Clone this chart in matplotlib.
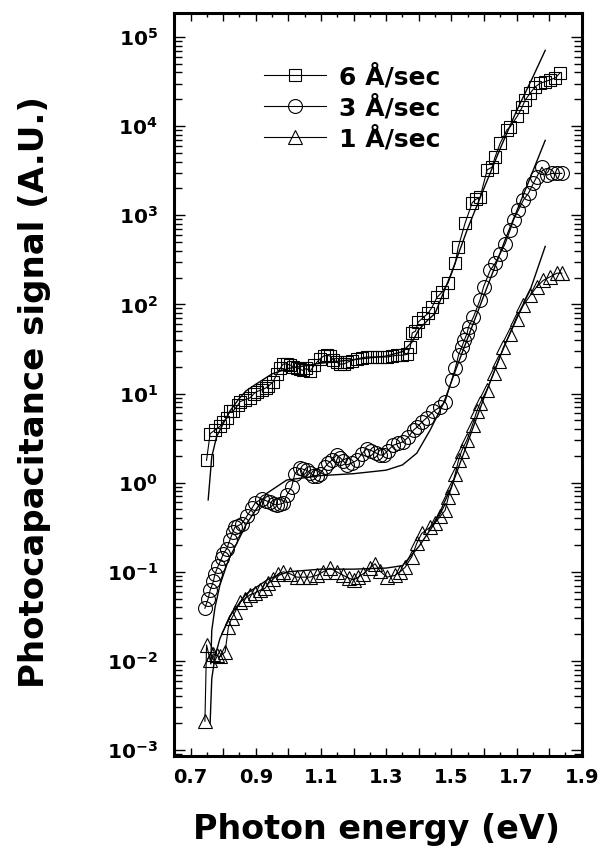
import matplotlib
matplotlib.use("Agg")
import matplotlib.pyplot as plt
import numpy as np
from matplotlib.ticker import LogLocator, NullFormatter, FixedLocator

# ---------------- data ----------------
sq_x = [0.749, 0.760, 0.775, 0.790, 0.800, 0.811, 0.820, 0.830, 0.845, 0.852, 0.867, 0.882, 0.895, 0.903,
        0.918, 0.930, 0.938, 0.953, 0.965, 0.975, 0.984, 0.995, 1.005, 1.015, 1.027, 1.037, 1.045, 1.055,
        1.067, 1.080, 1.097, 1.108, 1.119, 1.128, 1.137, 1.148, 1.159, 1.170, 1.180, 1.195, 1.211, 1.225,
        1.241, 1.256, 1.272, 1.288, 1.303, 1.318, 1.334, 1.350, 1.365, 1.374, 1.380, 1.390, 1.398, 1.413,
        1.429, 1.441, 1.456, 1.472, 1.490, 1.512, 1.521, 1.542, 1.564, 1.575, 1.588, 1.610, 1.625, 1.634,
        1.650, 1.671, 1.680, 1.702, 1.717, 1.726, 1.742, 1.757, 1.772, 1.788, 1.803, 1.819, 1.834]
sq_y = [1.78, 3.55, 3.89, 4.27, 4.79, 5.25, 6.31, 6.31, 7.41, 8.13, 8.51, 8.91, 10.0, 10.5,
        11.0, 11.5, 12.0, 13.5, 16.6, 19.1, 21.4, 21.4, 20.9, 20.0, 19.5, 18.6, 18.2, 19.1,
        17.8, 20.9, 24.5, 26.3, 26.9, 26.3, 24.0, 22.4, 21.4, 21.4, 22.4, 23.4, 24.5, 25.1,
        25.7, 25.7, 25.7, 25.7, 25.7, 26.3, 26.9, 26.9, 27.5, 33.1, 47.9, 50.1, 63.1, 70.8,
        79.4, 93.3, 120, 138, 174, 288, 437, 813, 1380, 1510, 1585, 3236, 3467, 4467,
        6457, 9120, 9772, 12880, 16220, 19500, 23440, 27540, 30200, 31620, 33110, 34670, 39810]

ci_x = [0.744, 0.754, 0.760, 0.770, 0.775, 0.785, 0.795, 0.800, 0.811, 0.821, 0.830, 0.836, 0.847, 0.857,
        0.872, 0.888, 0.898, 0.918, 0.930, 0.944, 0.955, 0.964, 0.975, 0.985, 0.995, 1.010, 1.020, 1.036,
        1.046, 1.056, 1.067, 1.077, 1.087, 1.097, 1.113, 1.123, 1.133, 1.148, 1.159, 1.169, 1.179, 1.195,
        1.210, 1.225, 1.240, 1.255, 1.270, 1.280, 1.292, 1.305, 1.322, 1.337, 1.353, 1.368, 1.384, 1.394,
        1.410, 1.425, 1.445, 1.466, 1.481, 1.501, 1.512, 1.522, 1.532, 1.540, 1.548, 1.553, 1.568, 1.588,
        1.599, 1.619, 1.634, 1.650, 1.665, 1.680, 1.691, 1.706, 1.721, 1.737, 1.752, 1.762, 1.778, 1.793,
        1.808, 1.824, 1.839]
ci_y = [0.039, 0.050, 0.062, 0.078, 0.095, 0.117, 0.141, 0.158, 0.182, 0.229, 0.28, 0.316, 0.33, 0.347,
        0.417, 0.513, 0.589, 0.661, 0.63, 0.603, 0.575, 0.562, 0.575, 0.589, 0.724, 0.891, 1.26, 1.45,
        1.41, 1.38, 1.29, 1.20, 1.20, 1.26, 1.51, 1.66, 1.78, 2.04, 1.91, 1.74, 1.58, 1.66,
        1.78, 2.09, 2.40, 2.29, 2.14, 2.04, 2.04, 2.29, 2.63, 2.75, 2.88, 3.24, 3.89, 4.17,
        4.79, 5.37, 6.31, 7.08, 8.13, 14.1, 19.1, 26.9, 33.1, 39.8, 46.8, 56.2, 72.4, 112,
        158, 240, 288, 372, 479, 676, 891, 1148, 1479, 1778, 2291, 2692, 3467, 2818,
        2951, 2951, 2951]

tr_x = [0.744, 0.749, 0.760, 0.770, 0.780, 0.790, 0.806, 0.816, 0.826, 0.836, 0.852, 0.867, 0.882, 0.898,
        0.913, 0.928, 0.939, 0.954, 0.969, 0.985, 1.005, 1.026, 1.046, 1.066, 1.087, 1.107, 1.128, 1.148,
        1.169, 1.185, 1.200, 1.215, 1.230, 1.250, 1.266, 1.281, 1.302, 1.327, 1.343, 1.358, 1.379, 1.394,
        1.409, 1.435, 1.450, 1.466, 1.481, 1.491, 1.501, 1.512, 1.522, 1.532, 1.548, 1.565, 1.578, 1.588,
        1.609, 1.630, 1.645, 1.660, 1.680, 1.701, 1.721, 1.742, 1.762, 1.782, 1.803, 1.824, 1.839]
tr_y = [0.0021, 0.0151, 0.0102, 0.0120, 0.0115, 0.0112, 0.0126, 0.024, 0.030, 0.035, 0.046, 0.050, 0.055, 0.058,
        0.062, 0.065, 0.074, 0.083, 0.095, 0.100, 0.095, 0.087, 0.087, 0.087, 0.091, 0.100, 0.110, 0.100,
        0.091, 0.085, 0.081, 0.087, 0.095, 0.110, 0.123, 0.102, 0.087, 0.091, 0.100, 0.112, 0.148, 0.209,
        0.269, 0.316, 0.355, 0.417, 0.490, 0.692, 0.891, 1.26, 1.78, 2.29, 3.02, 4.47, 6.31, 7.76,
        11.0, 17.0, 23.4, 33.1, 46.8, 69.2, 97.7, 126, 158, 186, 204, 224, 224]

fit6_x = [0.754, 0.765, 0.780, 0.800, 0.820, 0.846, 0.870, 0.903, 0.950, 1.000, 1.100, 1.200, 1.300, 1.350,
          1.380, 1.400, 1.430, 1.450, 1.500, 1.550, 1.600, 1.650, 1.700, 1.750, 1.788]
fit6_y = [0.64, 1.95, 3.3, 4.57, 6.3, 8.5, 10.7, 12.9, 16.6, 19.1, 21.9, 24.0, 26.3, 29.5,
          38, 52, 68, 79, 224, 708, 2000, 5620, 14800, 35500, 70800]

fit3_x = [0.762, 0.765, 0.775, 0.790, 0.816, 0.872, 0.934, 0.995, 1.100, 1.200, 1.300, 1.350, 1.394, 1.435,
          1.476, 1.517, 1.550, 1.600, 1.670, 1.732, 1.788]
fit3_y = [0.0093, 0.022, 0.040, 0.071, 0.135, 0.347, 0.759, 1.07, 1.20, 1.26, 1.38, 1.58, 2.14, 3.89,
          7.76, 20.0, 41.7, 126, 589, 2138, 6918]

fit1_x = [0.760, 0.765, 0.775, 0.790, 0.820, 0.870, 0.940, 1.000, 1.100, 1.200, 1.300, 1.350, 1.400, 1.450,
          1.500, 1.550, 1.600, 1.650, 1.700, 1.742, 1.788]
fit1_y = [0.0020, 0.0063, 0.0112, 0.0178, 0.0316, 0.0562, 0.0832, 0.100, 0.107, 0.107, 0.110, 0.117, 0.191, 0.355,
          0.891, 2.82, 8.91, 26.3, 70.8, 145, 447]

series_labels = ["6 Å/sec", "3 Å/sec", "1 Å/sec"]
x_ticks = [0.7, 0.8, 0.9, 1.0, 1.1, 1.2, 1.3, 1.4, 1.5, 1.6, 1.7, 1.8, 1.9]
x_tick_labels = ["0.7", "", "0.9", "", "1.1", "", "1.3", "", "1.5", "", "1.7", "", "1.9"]
y_ticks = [1e-3, 1e-2, 1e-1, 1e0, 1e1, 1e2, 1e3, 1e4, 1e5]
y_tick_labels = [r"$\mathbf{10^{-3}}$", r"$\mathbf{10^{-2}}$", r"$\mathbf{10^{-1}}$", r"$\mathbf{10^{0}}$",
                 r"$\mathbf{10^{1}}$", r"$\mathbf{10^{2}}$", r"$\mathbf{10^{3}}$", r"$\mathbf{10^{4}}$",
                 r"$\mathbf{10^{5}}$"]

# ---------------- figure ----------------
plt.rcParams['font.family'] = ['DejaVu Sans']
plt.rcParams['mathtext.fontset'] = 'dejavusans'

fig = plt.figure(figsize=(6.02, 8.52), dpi=100)
ax = fig.add_axes([0.2895, 0.1127, 0.6768, 0.872])

mkw = dict(color='black', lw=0.8, markerfacecolor='none', markeredgecolor='black', markeredgewidth=0.8)
ax.plot(sq_x, sq_y, marker='s', markersize=9.0, label=series_labels[0], **mkw)
ax.plot(ci_x, ci_y, marker='o', markersize=10.0, label=series_labels[1], **mkw)
ax.plot(tr_x, tr_y, marker='^', markersize=10.5, label=series_labels[2], **mkw)

for fx, fy in [(fit6_x, fit6_y), (fit3_x, fit3_y), (fit1_x, fit1_y)]:
    ax.plot(fx, fy, color='black', lw=1.0)

ax.set_yscale('log')
ax.set_xlim(0.65, 1.9)
ax.set_ylim(10 ** -3.067, 10 ** 5.269)

ax.set_xticks(x_ticks)
ax.set_xticklabels(x_tick_labels, fontweight='bold', fontsize=14)
ax.xaxis.set_minor_locator(FixedLocator(np.arange(0.65, 1.91, 0.05)))
ax.set_yticks(y_ticks)
ax.set_yticklabels(y_tick_labels, fontsize=14.5)
ax.yaxis.set_minor_locator(LogLocator(base=10, subs=np.arange(2, 10), numticks=20))
ax.yaxis.set_minor_formatter(NullFormatter())

ax.tick_params(axis='x', which='major', direction='in', length=6, width=1, top=True, pad=9)
ax.tick_params(axis='x', which='minor', direction='in', length=3, width=1, top=True)
ax.tick_params(axis='y', which='major', direction='in', length=8, width=1, right=True, pad=12)
ax.tick_params(axis='y', which='minor', direction='in', length=5.5, width=1, right=True)

for s in ax.spines.values():
    s.set_linewidth(2.2)

leg = ax.legend(loc='upper left', bbox_to_anchor=(0.22, 0.932), frameon=False,
                prop=dict(family='DejaVu Sans', weight='bold', size=18),
                handlelength=2.5, handletextpad=0.52, labelspacing=0.22, borderpad=0,
                borderaxespad=0)

fig.text(0.626, 1 - 839 / 852, "Photon energy (eV)", ha='center', va='baseline',
         fontsize=24, fontweight='bold')
fig.text(0.058, 0.54, "Photocapacitance signal (A.U.)", ha='center', va='center', rotation=90,
         fontsize=24.5, fontweight='bold')

fig.savefig("out.png", dpi=100)
